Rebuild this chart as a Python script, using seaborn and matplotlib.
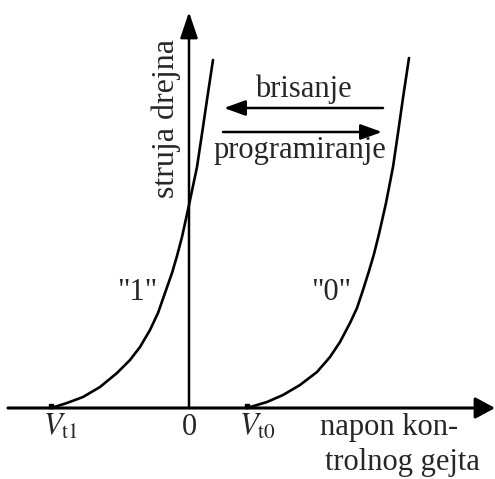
import matplotlib
matplotlib.use("Agg")
import matplotlib.pyplot as plt
import pandas as pd
import seaborn as sns

sns.set_style("white")
plt.rcParams["font.family"] = ["Liberation Serif", "DejaVu Serif"]
plt.rcParams["mathtext.fontset"] = "stix"

# Transfer characteristics of the floating-gate cell (schematic units)
vg_state1 = [-137, -121, -105, -88, -71, -58, -48, -38, -30, -23, -16, -11,
             -6, 1, 9, 15, 20, 25]
id_state1 = [0, 5, 11, 21, 35, 48, 61, 78, 95, 115, 135, 152,
             171, 203, 241, 281, 315, 348]
vg_state0 = [59, 79, 95, 112, 129, 142, 152, 162, 169, 175, 181, 186,
             191, 198, 205, 210, 215, 221]
id_state0 = [0, 6, 13, 23, 36, 51, 66, 85, 100, 118, 137, 154,
             174, 205, 241, 275, 310, 350]

state_labels = ['"1"', '"0"']
threshold_voltages = [-137, 59]
threshold_labels = [r"$V_{\mathrm{t1}}$", r"$V_{\mathrm{t0}}$"]
x_label_lines = ["napon kon-", "trolnog gejta"]
y_label = "struja drejna"
erase_label = "brisanje"
program_label = "programiranje"

df = pd.concat([
    pd.DataFrame({"vg": vg_state1, "id": id_state1, "state": state_labels[0]}),
    pd.DataFrame({"vg": vg_state0, "id": id_state0, "state": state_labels[1]}),
])

fig = plt.figure(figsize=(4.95, 4.79), dpi=100)
ax = fig.add_axes([0, 0, 1, 1])
ax.set_xlim(-188, 307)
ax.set_ylim(-71, 408)

sns.lineplot(data=df, x="vg", y="id", units="state", estimator=None, sort=False,
             color="black", lw=1.9, ax=ax, legend=False)

fs = 22
arrow_kw = dict(color="black", shrinkA=0, shrinkB=0)

# axes with arrowheads
ax.annotate("", xy=(307, 0), xytext=(-180, 0),
            arrowprops=dict(arrowstyle="-|>,head_length=12,head_width=6.5",
                            mutation_scale=1, lw=2.2, **arrow_kw))
ax.annotate("", xy=(1, 396), xytext=(1, 0),
            arrowprops=dict(arrowstyle="-|>,head_length=16,head_width=5.4",
                            mutation_scale=1, lw=1.8, **arrow_kw))

# threshold markers and labels
ax.scatter(threshold_voltages, [2, 2], marker="s", s=12, color="black", zorder=5)
for v, lab in zip(threshold_voltages, threshold_labels):
    ax.text(v - 8, -27, lab, fontsize=fs, ha="left", va="baseline")
ax.text(1, -27, "0", fontsize=fs, ha="center", va="baseline")

ax.text(132, -27, x_label_lines[0], fontsize=fs, ha="left", va="baseline")
ax.text(137, -62, x_label_lines[1], fontsize=fs, ha="left", va="baseline")
ax.text(-22, 290, y_label, fontsize=fs + 1, rotation=90, ha="center", va="center")

# state labels next to each curve
ax.text(-51, 116, state_labels[0], fontsize=fs, ha="center", va="center")
ax.text(143, 116, state_labels[1], fontsize=fs, ha="center", va="center")

# erase / program shift arrows
ax.annotate("", xy=(36, 300), xytext=(195, 300),
            arrowprops=dict(arrowstyle="-|>,head_length=13,head_width=4.7",
                            mutation_scale=1, lw=1.8, **arrow_kw))
ax.annotate("", xy=(194, 276), xytext=(35, 276),
            arrowprops=dict(arrowstyle="-|>,head_length=13,head_width=4.7",
                            mutation_scale=1, lw=1.8, **arrow_kw))
ax.text(115, 311, erase_label, fontsize=fs, ha="center", va="baseline")
ax.text(112, 250, program_label, fontsize=fs, ha="center", va="baseline")

ax.set_axis_off()
fig.savefig("out.png", dpi=100, facecolor="white")
